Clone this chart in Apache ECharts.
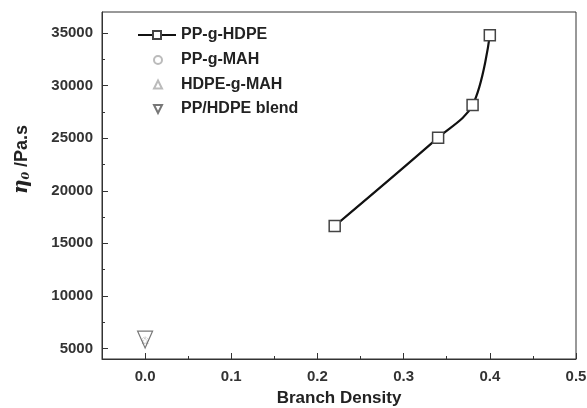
<!DOCTYPE html>
<html><head><meta charset="utf-8">
<script src="https://cdn.jsdelivr.net/npm/echarts@6/dist/echarts.min.js"></script>
<style>html,body{margin:0;padding:0;background:#fff}#c{width:587px;height:408px}</style>
</head><body><div id="c"></div>
<script>
const ppgHdpeX = [0.22, 0.34, 0.38, 0.40];
const ppgHdpeY = [16650, 25050, 28150, 34800];
const ppgMah = [[0.0, 5800]];
const hdpeGMah = [[0.0, 5750]];
const blend = [[0.0, 5850]];
const xTicks = [0, 0.1, 0.2, 0.3, 0.4, 0.5];
const xMinor = [0.05, 0.15, 0.25, 0.35, 0.45];
const yTicks = [5000, 10000, 15000, 20000, 25000, 30000, 35000];
const yMinor = [7500, 12500, 17500, 22500, 27500, 32500];

const chart = echarts.init(document.getElementById('c'));
const ff = 'Liberation Sans, Arial, sans-serif';
const axisCol = '#333';
const legendText = {fontFamily: ff, fontWeight: 'bold', fontSize: 16, color: '#222'};
chart.setOption({
  animation: false,
  grid: {left: 102, right: 11, top: 12, bottom: 49, outerBoundsMode: 'none', containLabel: false,
         show: true, borderColor: axisCol, borderWidth: 1},
  legend: [{
    left: 132, top: 22, orient: 'vertical', itemWidth: 38, itemHeight: 10,
    textStyle: legendText,
    data: ['PP-g-HDPE']
  }, {
    left: 148, top: 47, orient: 'vertical', itemWidth: 8, itemHeight: 8, itemGap: 8.5,
    textStyle: Object.assign({padding: [0, 0, 0, 14]}, legendText),
    data: [
      {name: 'PP-g-MAH'},
      {name: 'HDPE-g-MAH'},
      {name: 'PP/HDPE blend', icon: 'path://M0,0 L10,0 L5,10 Z'}
    ]
  }],
  xAxis: [{
    type: 'value', min: -0.05, max: 0.5,
    name: 'Branch Density', nameLocation: 'middle', nameGap: 31,
    nameTextStyle: {fontFamily: ff, fontWeight: 'bold', fontSize: 17, color: '#222'},
    axisLine: {onZero: false, lineStyle: {color: axisCol}},
    axisTick: {inside: true, length: 6, customValues: xTicks, lineStyle: {color: axisCol}},
    axisLabel: {customValues: xTicks, formatter: v => v.toFixed(1), fontFamily: ff, fontWeight: 'bold', fontSize: 15, color: '#333', margin: 10},
    splitLine: {show: false}
  }, {
    type: 'value', min: -0.05, max: 0.5, position: 'bottom',
    axisLine: {show: false, onZero: false},
    axisTick: {inside: true, length: 3, customValues: xMinor, lineStyle: {color: axisCol}},
    axisLabel: {show: false}, splitLine: {show: false}
  }],
  yAxis: [{
    type: 'value', min: 4000, max: 37000,
    name: '{eta|η}{sub|0}{t| /Pa.s}', nameLocation: 'middle', nameGap: 70, nameRotate: 90,
    nameTextStyle: {padding: [0, 0, 0, 52], rich: {
      eta: {fontFamily: 'DejaVu Serif, serif', fontStyle: 'italic', fontWeight: 'bold', fontSize: 20, color: '#222'},
      sub: {fontFamily: 'DejaVu Serif, serif', fontStyle: 'italic', fontWeight: 'bold', fontSize: 11, color: '#222', verticalAlign: 'bottom', padding: [9, 0, 0, 0]},
      t: {fontFamily: ff, fontWeight: 'bold', fontSize: 18, color: '#222'}
    }},
    axisLine: {show: true, onZero: false, lineStyle: {color: axisCol}},
    axisTick: {show: true, inside: true, length: 6, customValues: yTicks, lineStyle: {color: axisCol}},
    axisLabel: {customValues: yTicks, formatter: v => String(v), fontFamily: ff, fontWeight: 'bold', fontSize: 15, color: '#333', margin: 9},
    splitLine: {show: false}
  }, {
    type: 'value', min: 4000, max: 37000, position: 'left',
    axisLine: {show: false, onZero: false},
    axisTick: {show: true, inside: true, length: 3, customValues: yMinor, lineStyle: {color: axisCol}},
    axisLabel: {show: false}, splitLine: {show: false}
  }],
  series: [
    {
      name: 'PP-g-HDPE', type: 'line', smooth: 0.35,
      data: ppgHdpeX.map((x, i) => [x, ppgHdpeY[i]]),
      lineStyle: {color: '#111', width: 2.2},
      symbol: 'rect', symbolSize: 11,
      itemStyle: {color: '#fff', borderColor: '#444', borderWidth: 1.5},
      z: 3
    },
    {
      name: 'PP-g-MAH', type: 'scatter', data: ppgMah,
      symbol: 'circle', symbolSize: 6,
      itemStyle: {color: 'rgba(255,255,255,0)', borderColor: '#aaa', borderWidth: 1, borderType: 'dotted'}
    },
    {
      name: 'HDPE-g-MAH', type: 'scatter', data: hdpeGMah,
      symbol: 'triangle', symbolSize: 6,
      itemStyle: {color: 'rgba(255,255,255,0)', borderColor: '#aaa', borderWidth: 1, borderType: 'dotted'}
    },
    {
      name: 'PP/HDPE blend', type: 'scatter', data: blend,
      symbol: 'triangle', symbolRotate: 180, symbolSize: [15, 17],
      itemStyle: {color: 'rgba(255,255,255,0)', borderColor: '#555', borderWidth: 1.2}
    }
  ]
});
</script></body></html>
